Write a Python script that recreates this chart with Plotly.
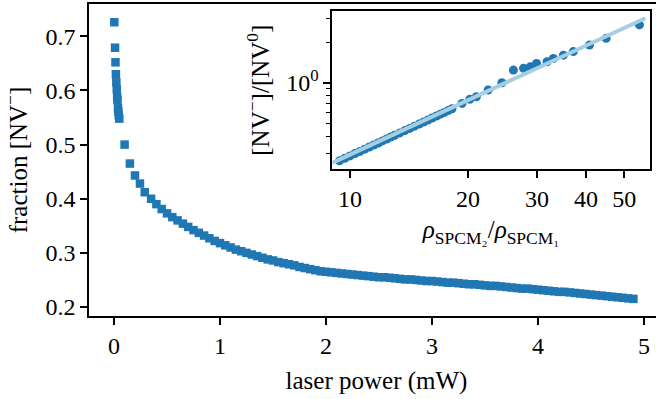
import plotly.graph_objects as go

# ---------------- data ----------------
power_mw = [0.003, 0.010, 0.014, 0.018, 0.022, 0.026, 0.030, 0.033, 0.038, 0.041, 0.045, 0.050,
            0.100, 0.150, 0.198, 0.245, 0.290,
            0.35, 0.40, 0.45, 0.50, 0.55, 0.60, 0.65, 0.70, 0.75, 0.80,
            0.85, 0.90, 0.95, 1.00, 1.05, 1.10, 1.15, 1.20, 1.25, 1.30,
            1.35, 1.40, 1.45, 1.50, 1.55, 1.60, 1.65, 1.70, 1.75, 1.80,
            1.85, 1.90, 1.95, 2.00, 2.05, 2.10, 2.15, 2.20, 2.25, 2.30,
            2.35, 2.40, 2.45, 2.50, 2.55, 2.60, 2.65, 2.70, 2.75, 2.80,
            2.85, 2.90, 2.95, 3.00, 3.05, 3.10, 3.15, 3.20, 3.25, 3.30,
            3.35, 3.40, 3.45, 3.50, 3.55, 3.60, 3.65, 3.70, 3.75, 3.80,
            3.85, 3.90, 3.95, 4.00, 4.05, 4.10, 4.15, 4.20, 4.25, 4.30,
            4.35, 4.40, 4.45, 4.50, 4.55, 4.60, 4.65, 4.70, 4.75, 4.80,
            4.85, 4.90]
fraction_nv = [0.726, 0.679, 0.652, 0.630, 0.615, 0.602, 0.588, 0.582, 0.567, 0.561, 0.554, 0.548,
               0.500, 0.465, 0.443, 0.428, 0.412,
               0.400, 0.390, 0.381, 0.373, 0.366, 0.360, 0.354, 0.348, 0.342, 0.337,
               0.332, 0.327, 0.322, 0.318, 0.314, 0.310, 0.306, 0.303, 0.300, 0.297,
               0.294, 0.291, 0.288, 0.286, 0.283, 0.281, 0.279, 0.277, 0.274, 0.272,
               0.270, 0.268, 0.266, 0.265, 0.264, 0.263, 0.262, 0.261, 0.260, 0.259,
               0.258, 0.257, 0.256, 0.255, 0.255, 0.254, 0.253, 0.252, 0.251, 0.251,
               0.250, 0.249, 0.248, 0.248, 0.247, 0.246, 0.245, 0.245, 0.244, 0.243,
               0.242, 0.242, 0.241, 0.240, 0.239, 0.239, 0.238, 0.237, 0.236, 0.235,
               0.234, 0.234, 0.233, 0.232, 0.231, 0.230, 0.229, 0.228, 0.228, 0.227,
               0.226, 0.225, 0.224, 0.223, 0.222, 0.221, 0.220, 0.219, 0.218, 0.217,
               0.216, 0.215]

# inset: rho_SPCM2 / rho_SPCM1 vs [NV-]/[NV0]
inset_ratio = [9.4, 9.7, 10.0, 10.3, 10.6, 10.9, 11.2, 11.5, 11.8, 12.1, 12.4, 12.7, 13.0,
               13.4, 13.8, 14.2, 14.6, 15.0, 15.4, 15.8, 16.2, 16.6, 17.0, 17.4, 17.8, 18.2,
               19.3, 20.2, 21.0, 22.5, 24.4, 26.1, 27.7, 28.8, 29.9, 31.8, 33.0, 35.0,
               37.1, 40.8, 45.0, 54.7]
inset_nv_ratio = [0.264, 0.276, 0.287, 0.299, 0.310, 0.322, 0.334, 0.346, 0.358, 0.371, 0.383,
                  0.396, 0.408, 0.425, 0.442, 0.459, 0.477, 0.494, 0.512, 0.530, 0.548, 0.566,
                  0.585, 0.603, 0.622, 0.641,
                  0.703, 0.753, 0.787, 0.883, 1.00, 1.24, 1.28, 1.31, 1.39, 1.43, 1.51, 1.60,
                  1.70, 1.90, 2.13, 2.68]
fit_ratio = [9.0, 56.6]
fit_nv_ratio = [0.255, 3.0]

main_xticks = [0, 1, 2, 3, 4, 5]
main_yticks = [0.2, 0.3, 0.4, 0.5, 0.6, 0.7]
inset_xticks = [10, 20, 30, 40, 50]
inset_yminor = [0.3, 0.4, 0.5, 0.6, 0.7, 0.8, 0.9, 2, 3]

BLUE = "#1f77b4"
LIGHT = "#a6cee3"
FONT = "Liberation Serif"
FS = 24
TFS = 25

fig = go.Figure()
fig.add_trace(go.Scatter(x=power_mw, y=fraction_nv, mode="markers",
                         marker=dict(symbol="square", size=8.5, color=BLUE, line=dict(width=0)),
                         xaxis="x", yaxis="y", showlegend=False))
fig.add_trace(go.Scatter(x=inset_ratio, y=inset_nv_ratio, mode="markers",
                         marker=dict(symbol="circle", size=9, color=BLUE, line=dict(width=0)),
                         xaxis="x2", yaxis="y2", showlegend=False))
fig.add_trace(go.Scatter(x=fit_ratio, y=fit_nv_ratio, mode="lines",
                         line=dict(color=LIGHT, width=4),
                         xaxis="x2", yaxis="y2", showlegend=False))

axis_common = dict(showline=True, linecolor="black", linewidth=1.6, ticks="outside",
                   tickcolor="black", tickwidth=1.6, showgrid=False, zeroline=False,
                   automargin=False,
                   tickfont=dict(family=FONT, size=FS, color="black"))

# the main axes run past the right edge of the 656-px window (as in the reference)
fig.update_layout(
    width=664, height=399,
    margin=dict(l=89, r=0, t=4, b=83, autoexpand=False),
    paper_bgcolor="white", plot_bgcolor="white",
    font=dict(family=FONT, size=FS, color="black"),
    xaxis=dict(axis_common, range=[-0.2358, 5.1887], tickvals=main_xticks, ticklen=7,
               mirror=True,
               title=dict(text="laser power (mW)", standoff=14,
                          font=dict(family=FONT, size=TFS))),
    yaxis=dict(axis_common, range=[0.1834, 0.7597], tickvals=main_yticks, ticklen=7,
               tickformat=".1f", mirror=True,
               title=dict(text="fraction [NV<sup>−</sup>]", standoff=13,
                          font=dict(family=FONT, size=TFS))),
    xaxis2=dict(axis_common, type="log", range=[0.9548, 1.765], tickvals=inset_xticks,
                ticktext=[str(v) for v in inset_xticks], ticklen=7, mirror=True,
                anchor="y2", domain=[0.4231, 0.9757],
                title=dict(text="<i>ρ</i><sub>SPCM₂</sub>/<i>ρ</i><sub>SPCM₁</sub>", standoff=10,
                           font=dict(family=FONT, size=TFS))),
    yaxis2=dict(axis_common, type="log", range=[-0.641, 0.531], tickvals=[1],
                ticktext=["10<sup>0</sup>"], ticklen=7, mirror=True,
                anchor="x2", domain=[0.4702, 0.9776],
                minor=dict(tickvals=inset_yminor, ticklen=4, tickwidth=1.2,
                           tickcolor="black", ticks="outside", showgrid=False),
                title=dict(text="[NV<sup>−</sup>]/[NV<sup>0</sup>]", standoff=10,
                           font=dict(family=FONT, size=TFS))),
)

fig.write_html("out.html", config={"displayModeBar": False},
               post_script="document.body.style.margin='0';document.body.style.overflow='hidden';")
